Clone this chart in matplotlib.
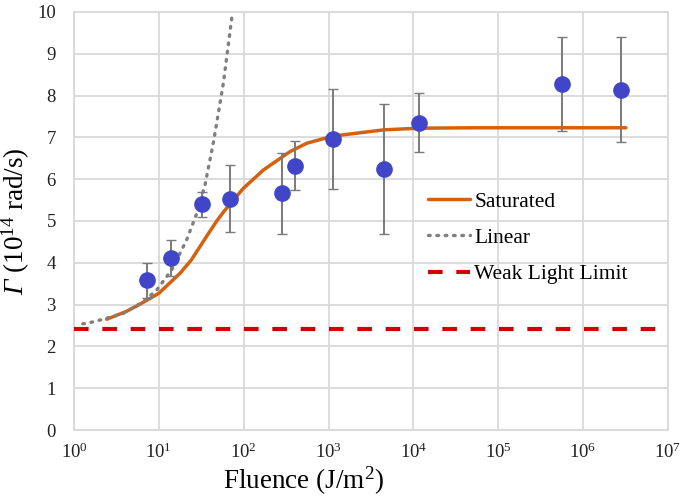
import numpy as np
import matplotlib
matplotlib.use("Agg")
import matplotlib.pyplot as plt

plt.rcParams['font.family'] = ['Liberation Serif', 'DejaVu Serif']
plt.rcParams['mathtext.fontset'] = 'custom'
plt.rcParams['mathtext.rm'] = 'Liberation Serif'
plt.rcParams['mathtext.it'] = 'Liberation Serif:italic'
plt.rcParams['mathtext.sf'] = 'Liberation Serif:italic'

# measured data
fluence = [7.26, 13.9, 32, 69.7, 281, 407, 1122, 4490, 11700, 569000, 2.8e6]
gamma = [3.58, 4.12, 5.40, 5.53, 5.66, 6.32, 6.96, 6.24, 7.35, 8.28, 8.14]
gamma_err = [0.42, 0.43, 0.30, 0.80, 0.97, 0.59, 1.19, 1.56, 0.71, 1.13, 1.25]

# saturated model curve
sat_x = [2.43, 4.18, 6.0, 10, 17.8, 24, 30.6, 39, 48.2, 58, 69, 99, 171, 352, 555, 1122,
         4490, 11700, 61700, 3.2e6]
sat_y = [2.65, 2.84, 3.01, 3.27, 3.75, 4.06, 4.39, 4.72, 5.0, 5.22, 5.40, 5.78, 6.22, 6.66, 6.86,
         7.03, 7.18, 7.22, 7.23, 7.23]

# linear model curve
lin_x = [1.27, 1.55, 2.03, 3.81, 6.57, 9.44, 14.2, 21.3, 28, 35, 44, 57.7, 73.6]
lin_y = [2.54, 2.57, 2.63, 2.79, 3.07, 3.35, 3.83, 4.55, 5.18, 5.86, 6.88, 8.3, 9.97]

# weak light limit
weak_y = 2.42
x_range = [1, 1e7]

xticks = [10**k for k in range(8)]
xtick_labels = [r'$10^{%d}$' % k for k in range(8)]
yticks = list(range(11))

fig = plt.figure(figsize=(6.85, 4.98), dpi=100)
ax = fig.add_axes([0.108, 0.1365, 0.867, 0.8395])

ax.plot(sat_x, sat_y, color='#D4610F', lw=2.5, label='Saturated', zorder=3,
        solid_capstyle='round', solid_joinstyle='round')
ax.plot(lin_x, lin_y, color='#7f7f7f', lw=2.4, linestyle=(0, (0.5, 2.0)),
        dash_capstyle='round', label='Linear', zorder=3)
ax.plot(x_range, [weak_y, weak_y], color='#D00000', lw=3, linestyle=(0, (3.5, 3.3)),
        label='Weak Light Limit', zorder=3)
ax.errorbar(fluence, gamma, yerr=gamma_err, fmt='o', color='#4146C8',
            markersize=11, ecolor='#7a7a7a', elinewidth=1.4, capsize=3.5,
            capthick=1.0, zorder=4)

ax.set_xscale('log')
ax.set_xlim(1, 1e7)
ax.set_ylim(0, 10)
ax.set_xticks(xticks)
ax.set_xticklabels(xtick_labels)
ax.xaxis.set_minor_locator(matplotlib.ticker.NullLocator())
ax.set_yticks(yticks)
ax.tick_params(axis='both', length=0, labelsize=13.5, colors='#222222')
ax.tick_params(axis='x', pad=9)
ax.tick_params(axis='y', pad=13)
ax.grid(True, color='#d9d9d9', lw=1.3)
for s in ax.spines.values():
    s.set_color('#d9d9d9')
    s.set_linewidth(1.3)
ax.set_axisbelow(True)

ax.set_xlabel(r'Fluence (J/m$^{2}$)', fontsize=19.5)
ax.xaxis.set_label_coords(0.386, -0.082)
ax.set_ylabel(r'$\mathsf{\Gamma}$ (10$^{14}$ rad/s)', fontsize=19.5, labelpad=4)

leg = ax.legend(loc='upper left', bbox_to_anchor=(0.596, 0.57), frameon=False,
                fontsize=15.5, handlelength=1.95, handletextpad=0.2,
                labelspacing=0.75, borderaxespad=0, borderpad=0)

fig.savefig('out.png', dpi=100)
